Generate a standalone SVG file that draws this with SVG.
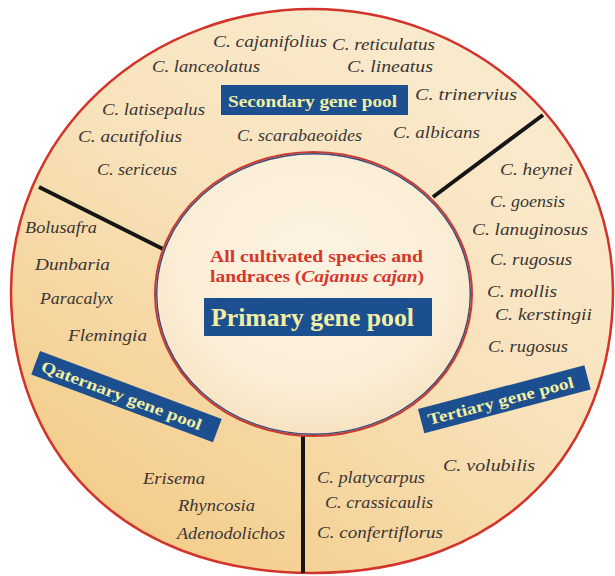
<svg xmlns="http://www.w3.org/2000/svg" width="615" height="576" viewBox="0 0 615 576">
  <defs>
    <linearGradient id="ringFill" x1="0.8" y1="0.05" x2="0.15" y2="0.95">
      <stop offset="0" stop-color="#faebcf"/>
      <stop offset="0.45" stop-color="#f8e2bb"/>
      <stop offset="1" stop-color="#f3cb86"/>
    </linearGradient>
    <radialGradient id="coreFill" cx="0.5" cy="0.4" r="0.6">
      <stop offset="0" stop-color="#fcf3e2"/>
      <stop offset="0.7" stop-color="#fbeed7"/>
      <stop offset="1" stop-color="#f7e3c2"/>
    </radialGradient>
    <style>
      .sp { font-family: "Liberation Serif", "Times New Roman", serif; font-style: italic; font-size: 17px; fill: #3b3535; }
      .box { fill: #1c4f8f; }
      .boxt { font-family: "Liberation Serif", "Times New Roman", serif; font-weight: bold; fill: #f3efa2; }
      .red { font-family: "Liberation Serif", "Times New Roman", serif; font-weight: bold; font-size: 17px; fill: #d8352b; }
      .div { stroke: #161616; stroke-width: 4; fill: none; stroke-linecap: butt; }
    </style>
  </defs>

  <rect x="0" y="0" width="615" height="576" fill="#ffffff"/>

  <g id="outer-ring">
    <path d="M 11 291 A 301 282 0 0 1 613 291 C 613 446 507.7 573 312 573 C 116.3 573 11 446 11 291 Z" fill="url(#ringFill)" stroke="#d2332a" stroke-width="2.5"/>
  </g>

  <g id="connectors">
    <line class="div" x1="39" y1="187" x2="163" y2="249"/>
    <line class="div" x1="543" y1="115" x2="433" y2="197"/>
    <line class="div" x1="303" y1="436" x2="303" y2="573"/>
  </g>

  <g id="primary">
    <ellipse cx="313.5" cy="294" rx="158.5" ry="142" fill="url(#coreFill)" stroke="#cc3a2e" stroke-width="2"/>
    <ellipse cx="313.5" cy="294" rx="156.8" ry="140.3" fill="none" stroke="#3d4777" stroke-width="1.4"/>
    <text class="red" x="210" y="262" textLength="213" lengthAdjust="spacingAndGlyphs">All cultivated species and</text>
    <text class="red" x="210" y="282" textLength="214" lengthAdjust="spacingAndGlyphs">landraces (<tspan font-style="italic">Cajanus cajan</tspan>)</text>
    <rect class="box" x="204" y="298" width="228" height="38"/>
    <text class="boxt" x="211" y="326" font-size="25" textLength="203" lengthAdjust="spacingAndGlyphs">Primary gene pool</text>
  </g>

  <g id="secondary">
    <rect class="box" x="221" y="85" width="187" height="30"/>
    <text class="boxt" x="228" y="107" font-size="17" textLength="169" lengthAdjust="spacingAndGlyphs">Secondary gene pool</text>
    <text class="sp" x="213" y="47" textLength="114" lengthAdjust="spacingAndGlyphs">C. cajanifolius</text>
    <text class="sp" x="332" y="50" textLength="103" lengthAdjust="spacingAndGlyphs">C. reticulatus</text>
    <text class="sp" x="152" y="72" textLength="108" lengthAdjust="spacingAndGlyphs">C. lanceolatus</text>
    <text class="sp" x="347" y="72" textLength="86" lengthAdjust="spacingAndGlyphs">C. lineatus</text>
    <text class="sp" x="415" y="100" textLength="102" lengthAdjust="spacingAndGlyphs">C. trinervius</text>
    <text class="sp" x="102" y="115" textLength="103" lengthAdjust="spacingAndGlyphs">C. latisepalus</text>
    <text class="sp" x="78" y="142" textLength="104" lengthAdjust="spacingAndGlyphs">C. acutifolius</text>
    <text class="sp" x="237" y="141" textLength="125" lengthAdjust="spacingAndGlyphs">C. scarabaeoides</text>
    <text class="sp" x="393" y="138" textLength="87" lengthAdjust="spacingAndGlyphs">C. albicans</text>
    <text class="sp" x="97" y="175" textLength="80" lengthAdjust="spacingAndGlyphs">C. sericeus</text>
  </g>

  <g id="tertiary">
    <g transform="translate(418,409) rotate(-14.7)">
      <rect class="box" x="0" y="0" width="172" height="25"/>
      <text class="boxt" x="7" y="18.5" font-size="16" textLength="150" lengthAdjust="spacingAndGlyphs">Tertiary gene pool</text>
    </g>
    <text class="sp" x="500" y="175" textLength="73" lengthAdjust="spacingAndGlyphs">C. heynei</text>
    <text class="sp" x="490" y="207" textLength="75" lengthAdjust="spacingAndGlyphs">C. goensis</text>
    <text class="sp" x="472" y="235" textLength="116" lengthAdjust="spacingAndGlyphs">C. lanuginosus</text>
    <text class="sp" x="490" y="265" textLength="82" lengthAdjust="spacingAndGlyphs">C. rugosus</text>
    <text class="sp" x="487" y="297" textLength="70" lengthAdjust="spacingAndGlyphs">C. mollis</text>
    <text class="sp" x="495" y="320" textLength="97" lengthAdjust="spacingAndGlyphs">C. kerstingii</text>
    <text class="sp" x="488" y="352" textLength="80" lengthAdjust="spacingAndGlyphs">C. rugosus</text>
    <text class="sp" x="443" y="471" textLength="92" lengthAdjust="spacingAndGlyphs">C. volubilis</text>
    <text class="sp" x="317" y="483" textLength="108" lengthAdjust="spacingAndGlyphs">C. platycarpus</text>
    <text class="sp" x="325" y="508" textLength="108" lengthAdjust="spacingAndGlyphs">C. crassicaulis</text>
    <text class="sp" x="317" y="538" textLength="126" lengthAdjust="spacingAndGlyphs">C. confertiflorus</text>
  </g>

  <g id="quaternary">
    <g transform="translate(40,351) rotate(20.5)">
      <rect class="box" x="0" y="0" width="194" height="25"/>
      <text class="boxt" x="7" y="18.5" font-size="16" textLength="170" lengthAdjust="spacingAndGlyphs">Qaternary gene pool</text>
    </g>
    <text class="sp" x="25" y="233" textLength="72" lengthAdjust="spacingAndGlyphs">Bolusafra</text>
    <text class="sp" x="35" y="270" textLength="75" lengthAdjust="spacingAndGlyphs">Dunbaria</text>
    <text class="sp" x="40" y="304" textLength="73" lengthAdjust="spacingAndGlyphs">Paracalyx</text>
    <text class="sp" x="68" y="341" textLength="79" lengthAdjust="spacingAndGlyphs">Flemingia</text>
    <text class="sp" x="143" y="484" textLength="62" lengthAdjust="spacingAndGlyphs">Erisema</text>
    <text class="sp" x="178" y="511" textLength="77" lengthAdjust="spacingAndGlyphs">Rhyncosia</text>
    <text class="sp" x="177" y="539" textLength="108" lengthAdjust="spacingAndGlyphs">Adenodolichos</text>
  </g>
</svg>
